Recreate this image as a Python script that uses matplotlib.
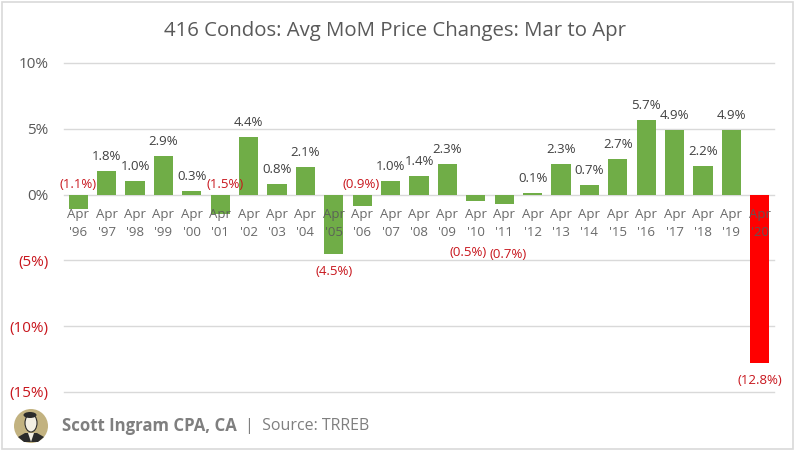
import matplotlib
matplotlib.use("Agg")
import matplotlib.pyplot as plt
from matplotlib.patches import Circle, Ellipse, Polygon, Rectangle

plt.rcParams['font.family'] = ['Open Sans', 'DejaVu Sans']

years = ["96", "97", "98", "99", "00", "01", "02", "03", "04", "05", "06", "07", "08",
         "09", "10", "11", "12", "13", "14", "15", "16", "17", "18", "19", "20"]
changes = [-1.1, 1.8, 1.0, 2.9, 0.3, -1.5, 4.4, 0.8, 2.1, -4.5, -0.9, 1.0, 1.4,
           2.3, -0.5, -0.7, 0.1, 2.3, 0.7, 2.7, 5.7, 4.9, 2.2, 4.9, -12.8]
y_ticks = [10, 5, 0, -5, -10, -15]

W, H = 796, 451
GREEN = "#70AD47"
RED = "#FF0000"
LABEL_RED = "#C8161D"
GREY = "#595959"
GRID = "#D9D9D9"


def pct(v, dec=1):
    s = f"{abs(v):.{dec}f}%"
    return f"({s})" if v < 0 else s


fig = plt.figure(figsize=(W / 100, H / 100), dpi=100)
ax = fig.add_axes([64 / W, 1 - 392 / H, 710 / W, 329 / H])

x = list(range(len(years)))
colors = [RED if y == "20" else GREEN for y in years]
ax.bar(x, changes, width=0.67, color=colors, zorder=1)
for t in y_ticks:
    ax.axhline(t, color=GRID, lw=1, zorder=0.5, clip_on=False)

ax.set_xlim(-0.5, len(years) - 0.5)
ax.set_ylim(-15, 10)
for s in ax.spines.values():
    s.set_visible(False)
# category labels hang off the zero line, over the bars
ax.spines["bottom"].set_position(("data", 0))

ax.set_xticks(x)
ax.set_xticklabels([f"Apr\n'{y}" for y in years], fontsize=9.5, color=GREY, linespacing=1.45, alpha=0.9)
ax.tick_params(axis="x", length=0, pad=10)

ax.set_yticks(y_ticks)
ax.set_yticklabels([pct(t, 0) for t in y_ticks], fontsize=11)
ax.tick_params(axis="y", length=0, pad=11)
for lab, t in zip(ax.get_yticklabels(), y_ticks):
    lab.set_color(LABEL_RED if t < 0 else GREY)

# labels that were dragged away from their bar: pixels from the default spot
nudges = {"96": (0, 42), "01": (5, 47), "06": (-1, 39), "10": (-8, -34), "11": (4, -33)}
for xi, y, v in zip(x, years, changes):
    dx, dy = nudges.get(y, (0, 0))
    base = 8 if v >= 0 else -11
    ax.annotate(pct(v), (xi, v), xytext=(dx * 0.72, (base + dy) * 0.72),
                textcoords="offset points", ha="center",
                va="bottom" if v >= 0 else "top", fontsize=9.5,
                color=LABEL_RED if v < 0 else "#404040", zorder=5)

fig.text(395.5 / W, 1 - 31 / H, "416 Condos: Avg MoM Price Changes: Mar to Apr",
         ha="center", va="center", fontsize=14.7, color=GREY)

# footer
fig.text(62 / W, 1 - 426 / H, "Scott Ingram CPA, CA", fontsize=12.1, fontweight="bold",
         color="#7F7F7F", va="center")
fig.text(245 / W, 1 - 426 / H, "|  Source: TRREB", fontsize=11.5, color="#7F7F7F", va="center")

# outer frame and avatar, drawn in pixel coordinates
bg = fig.add_axes([0, 0, 1, 1], zorder=-1)
bg.set_xlim(0, W)
bg.set_ylim(H, 0)
bg.axis("off")
bg.add_patch(Rectangle((1.5, 2), 791.5, 447, fill=False, ec=GRID, lw=1.2))
bg.add_patch(Circle((31, 426), 17, fc="#C2B280", ec="none"))
bg.add_patch(Polygon([(18, 437), (25, 433), (37, 433), (44, 437), (38, 442), (24, 442)], fc="#2B2B2B"))
bg.add_patch(Polygon([(28, 433), (34, 433), (31, 442)], fc="#F3EFE3"))
bg.add_patch(Ellipse((31, 423), 12, 18, fc="#F3EFE3", ec="#2B2B2B", lw=0.8))
bg.add_patch(Ellipse((30, 415), 13, 6, fc="#2B2B2B", ec="none"))

fig.savefig("out.png", dpi=100, facecolor="white")
